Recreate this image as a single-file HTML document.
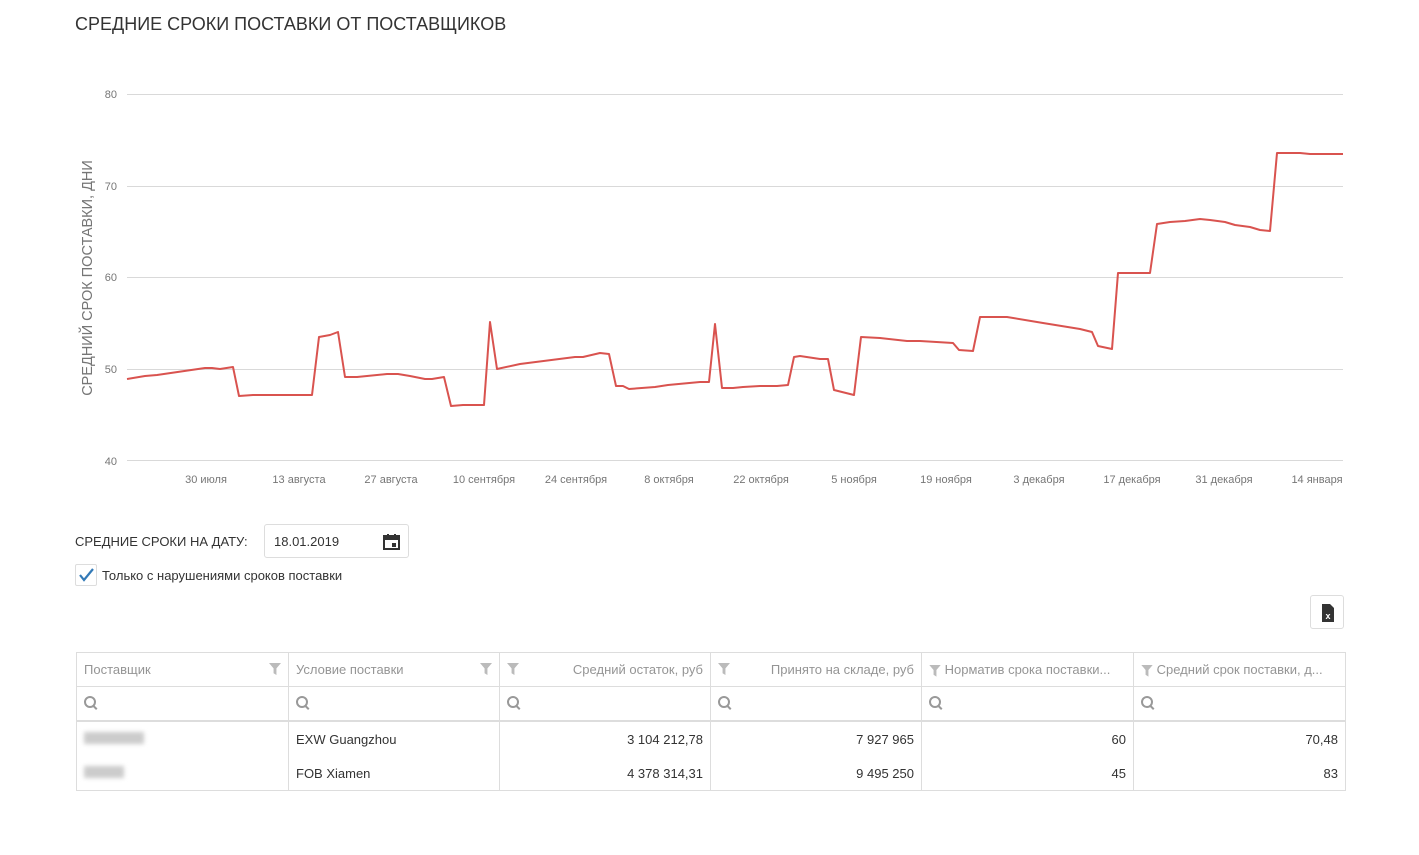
<!DOCTYPE html>
<html><head><meta charset="utf-8"><style>
body{margin:0;width:1419px;height:855px;background:#fff;font-family:"Liberation Sans",sans-serif;color:#333;position:relative;overflow:hidden}
.a{position:absolute}
table{position:absolute;left:76px;top:652px;border-collapse:collapse;font-size:13px;table-layout:fixed}
td{border:1px solid #ddd;height:33px;padding:0 7px;white-space:nowrap;overflow:hidden}
.h td{color:#959595;border-bottom:1px solid #ddd}
.b td{border-top:none;border-bottom:none;height:34px;color:#333}
.r{text-align:right}
.fl{display:inline-block;width:12px;height:12px;vertical-align:middle;background:#bbb;clip-path:polygon(0 0,100% 0,62% 45%,62% 100%,38% 85%,38% 45%)}
.mag{display:inline-block;width:8px;height:8px;border:2px solid #999;border-radius:50%;position:relative}
.mag:after{content:"";position:absolute;width:2px;height:5px;background:#999;left:8px;top:7px;transform:rotate(-45deg)}
</style></head><body>
<div class="a" style="left:75px;top:14px;font-size:18px;color:#333">СРЕДНИЕ СРОКИ ПОСТАВКИ ОТ ПОСТАВЩИКОВ</div>
<svg class="a" style="left:0;top:0" width="1419" height="500">
<g stroke="#d9d9d9" stroke-width="1">
<line x1="127" x2="1343" y1="94.5" y2="94.5"/><line x1="127" x2="1343" y1="186.5" y2="186.5"/><line x1="127" x2="1343" y1="277.5" y2="277.5"/><line x1="127" x2="1343" y1="369.5" y2="369.5"/><line x1="127" x2="1343" y1="460.5" y2="460.5"/>
</g>
<g font-size="11" fill="#767676" text-anchor="end"><text x="117" y="98">80</text><text x="117" y="190">70</text><text x="117" y="281">60</text><text x="117" y="373">50</text><text x="117" y="465">40</text></g>
<text transform="translate(92,278) rotate(-90)" text-anchor="middle" font-size="14.5" fill="#767676">СРЕДНИЙ СРОК ПОСТАВКИ, ДНИ</text>
<g font-size="11" fill="#767676" text-anchor="middle">
<text x="206" y="483">30 июля</text><text x="299" y="483">13 августа</text><text x="391" y="483">27 августа</text><text x="484" y="483">10 сентября</text><text x="576" y="483">24 сентября</text><text x="669" y="483">8 октября</text><text x="761" y="483">22 октября</text><text x="854" y="483">5 ноября</text><text x="946" y="483">19 ноября</text><text x="1039" y="483">3 декабря</text><text x="1132" y="483">17 декабря</text><text x="1224" y="483">31 декабря</text><text x="1317" y="483">14 января</text>
</g>
<polyline fill="none" stroke="#d9534f" stroke-width="2" stroke-linejoin="round" points="127,379 145,376 157,375 205,368 212,368 220,369 233,367 239,396 253,395 312,395 319,337 330,335 338,332 345,377 357,377 367,376 387,374 398,374 410,376 425,379 432,379 444,377 451,406 463,405 484,405 490,322 497,369 520,364 575,357 583,357 600,353 609,354 616,386 623,386 629,389 655,387 668,385 700,382 709,382 715,324 722,388 733,388 743,387 760,386 777,386 788,385 794,357 800,356 820,359 828,359 834,390 854,395 861,337 880,338 907,341 920,341 953,343 959,350 973,351 980,317 1007,317 1043,323 1080,329 1092,332 1098,346 1112,349 1118,273 1150,273 1157,224 1170,222 1185,221 1200,219 1210,220 1225,222 1235,225 1250,227 1260,230 1270,231 1277,153 1300,153 1310,154 1343,154"/>
</svg>
<div class="a" style="left:75px;top:534px;font-size:13px">СРЕДНИЕ СРОКИ НА ДАТУ:</div>
<div class="a" style="left:264px;top:524px;width:145px;height:34px;border:1px solid #ddd;border-radius:3px;font-size:13px;line-height:34px;box-sizing:border-box;padding-left:9px">18.01.2019
<svg style="position:absolute;right:8px;top:9px" width="17" height="16"><rect x="1" y="2" width="15" height="13" fill="none" stroke="#333" stroke-width="2"/><rect x="1" y="2" width="15" height="4" fill="#333"/><rect x="4" y="0" width="2" height="3" fill="#333"/><rect x="11" y="0" width="2" height="3" fill="#333"/><rect x="9" y="9" width="4" height="4" fill="#333"/></svg></div>
<div class="a" style="left:75px;top:564px;width:20px;height:20px;border:1px solid #ddd;border-radius:2px"><svg width="20" height="20"><polyline points="4,10 8,15 17,4" fill="none" stroke="#337ab7" stroke-width="2.2"/></svg></div>
<div class="a" style="left:102px;top:568px;font-size:13px">Только с нарушениями сроков поставки</div>
<div class="a" style="left:1310px;top:595px;width:34px;height:34px;border:1px solid #ddd;border-radius:3px;box-sizing:border-box"><svg width="34" height="34"><path d="M11 8h8l4 4v14h-12z" fill="#333"/><text x="17" y="23" font-size="9" fill="#fff" text-anchor="middle" font-weight="bold">x</text></svg></div>
<table>
<colgroup><col style="width:212px"><col style="width:211px"><col style="width:211px"><col style="width:211px"><col style="width:212px"><col style="width:212px"></colgroup>
<tr class="h"><td>Поставщик<span class="fl" style="float:right;margin-top:1px"></span></td><td>Условие поставки<span class="fl" style="float:right;margin-top:1px"></span></td><td class="r"><span class="fl" style="float:left;margin-top:1px"></span>Средний остаток, руб</td><td class="r"><span class="fl" style="float:left;margin-top:1px"></span>Принято на складе, руб</td><td><span class="fl"></span> Норматив срока поставки...</td><td><span class="fl"></span> Средний срок поставки, д...</td></tr>
<tr class="h"><td style="border-bottom:2px solid #ddd"><span class="mag"></span></td><td style="border-bottom:2px solid #ddd"><span class="mag"></span></td><td style="border-bottom:2px solid #ddd"><span class="mag"></span></td><td style="border-bottom:2px solid #ddd"><span class="mag"></span></td><td style="border-bottom:2px solid #ddd"><span class="mag"></span></td><td style="border-bottom:2px solid #ddd"><span class="mag"></span></td></tr>
<tr class="b"><td><span style="display:inline-block;width:60px;height:12px;background:#ccc;filter:blur(2px)"></span></td><td>EXW Guangzhou</td><td class="r">3 104 212,78</td><td class="r">7 927 965</td><td class="r">60</td><td class="r">70,48</td></tr>
<tr class="b"><td style="border-bottom:1px solid #ddd"><span style="display:inline-block;width:40px;height:12px;background:#ccc;filter:blur(2px)"></span></td><td style="border-bottom:1px solid #ddd">FOB Xiamen</td><td class="r" style="border-bottom:1px solid #ddd">4 378 314,31</td><td class="r" style="border-bottom:1px solid #ddd">9 495 250</td><td class="r" style="border-bottom:1px solid #ddd">45</td><td class="r" style="border-bottom:1px solid #ddd">83</td></tr>
</table>
</body></html>
